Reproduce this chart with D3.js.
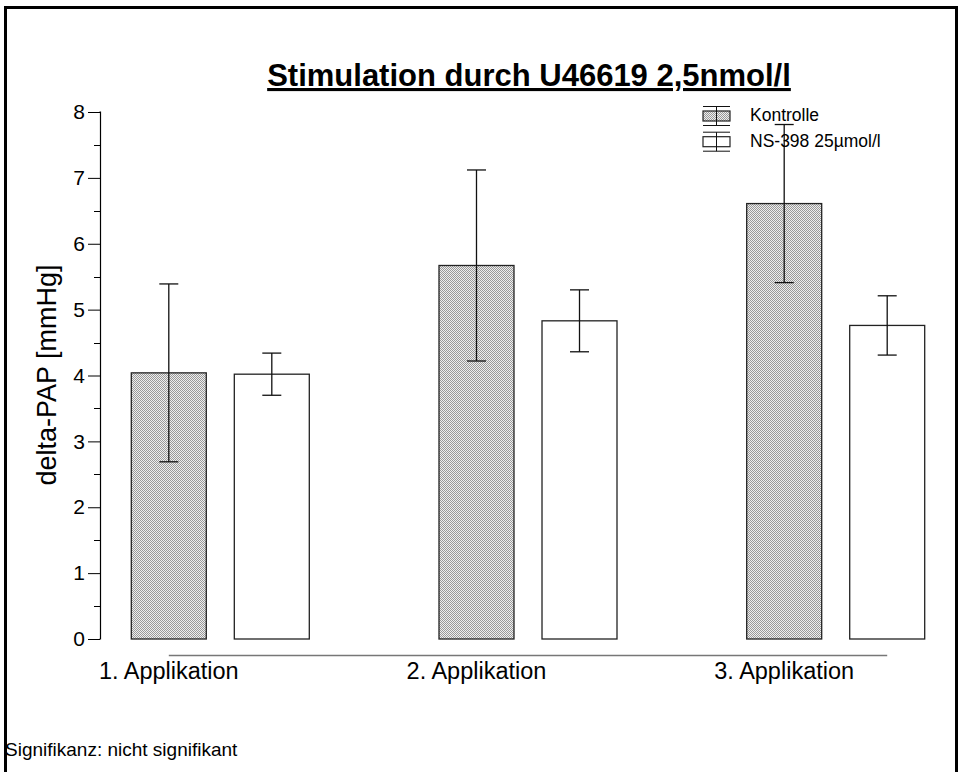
<!DOCTYPE html>
<html>
<head>
<meta charset="utf-8">
<script src="https://cdn.jsdelivr.net/npm/d3@7"></script>
<style>
  html, body { margin: 0; padding: 0; background: #fff; }
  svg { display: block; font-family: "Liberation Sans", Arial, sans-serif; }
</style>
</head>
<body>
<svg id="chart" width="961" height="772"></svg>
<script>
// Applications (x categories)
const categories = ["1. Applikation", "2. Applikation", "3. Applikation"];
// Treatment groups
const series = ["Kontrolle", "NS-398 25µmol/l"];
// Mean delta-PAP [mmHg] per application
const kontrolleMean = [4.04, 5.67, 6.61];
const ns398Mean = [4.02, 4.83, 4.76];
// Error (±) per application
const kontrolleErr = [1.35, 1.45, 1.20];
const ns398Err = [0.32, 0.47, 0.45];
// Y axis ticks
const yTicks = [0, 1, 2, 3, 4, 5, 6, 7, 8];
const yMinorTicks = [0.5, 1.5, 2.5, 3.5, 4.5, 5.5, 6.5, 7.5];

const title = "Stimulation durch U46619 2,5nmol/l";
const yLabel = "delta-PAP [mmHg]";
const footnote = "Signifikanz: nicht signifikant";

const svg = d3.select("#chart");

// Checkered fill for the control bars
const defs = svg.append("defs");
const pat = defs.append("pattern")
  .attr("id", "checker")
  .attr("patternUnits", "userSpaceOnUse")
  .attr("width", 2).attr("height", 2);
pat.append("rect").attr("width", 2).attr("height", 2).attr("fill", "#eeeeee");
pat.append("rect").attr("x", 0).attr("y", 0).attr("width", 1).attr("height", 1).attr("fill", "#999999");
pat.append("rect").attr("x", 1).attr("y", 1).attr("width", 1).attr("height", 1).attr("fill", "#999999");

// Frame
svg.append("rect")
  .attr("x", 5.5).attr("y", 7.5).attr("width", 951).attr("height", 780)
  .attr("fill", "none").attr("stroke", "#000").attr("stroke-width", 3);

// Scales
const y = d3.scaleLinear().domain([0, 8]).range([639, 112]);
const x = d3.scaleBand().domain(categories).range([131.3, 131.3 + 3 * 307.7]).padding(0);
const xs = d3.scaleBand().domain(series).range([0, 178]).paddingInner(0.272).paddingOuter(0);
const bw = xs.bandwidth();

const data = [];
categories.forEach((c, i) => {
  data.push({ cat: c, s: series[0], v: kontrolleMean[i], e: kontrolleErr[i] });
  data.push({ cat: c, s: series[1], v: ns398Mean[i], e: ns398Err[i] });
});

// Y axis
const axisX = 100;
const yAxis = d3.axisLeft(y).tickValues(yTicks).tickSize(12).tickPadding(3).tickFormat(d3.format("d"));
const gy = svg.append("g").attr("transform", `translate(${axisX},0)`).call(yAxis);
gy.select(".domain").attr("d", `M-0.5,${y(8)}H0.5V${y(0)}H-0.5`).attr("stroke", "#000").attr("stroke-width", 1.2);
gy.selectAll(".tick line").attr("stroke", "#000");
gy.selectAll(".tick text").attr("font-size", 21).attr("fill", "#000")
  .attr("font-family", "Liberation Sans, Arial, sans-serif");
svg.append("g").selectAll("line").data(yMinorTicks).join("line")
  .attr("x1", axisX - 6).attr("x2", axisX)
  .attr("y1", d => Math.round(y(d)) + 0.5).attr("y2", d => Math.round(y(d)) + 0.5)
  .attr("stroke", "#000");

// Bars
svg.append("g").selectAll("rect").data(data).join("rect")
  .attr("x", d => x(d.cat) + xs(d.s))
  .attr("y", d => y(d.v))
  .attr("width", bw)
  .attr("height", d => y(0) - y(d.v))
  .attr("fill", d => d.s === series[0] ? "url(#checker)" : "#fff")
  .attr("stroke", "#222").attr("stroke-width", 1.3);

// Error bars
const cap = 19;
const eb = svg.append("g").attr("stroke", "#111").attr("stroke-width", 1.3);
data.forEach(d => {
  const cx = x(d.cat) + xs(d.s) + bw / 2;
  eb.append("line").attr("x1", cx).attr("x2", cx).attr("y1", y(d.v + d.e)).attr("y2", y(d.v - d.e));
  eb.append("line").attr("x1", cx - cap / 2).attr("x2", cx + cap / 2).attr("y1", y(d.v + d.e)).attr("y2", y(d.v + d.e));
  eb.append("line").attr("x1", cx - cap / 2).attr("x2", cx + cap / 2).attr("y1", y(d.v - d.e)).attr("y2", y(d.v - d.e));
});

// Category axis line (from first to last bar centre)
const firstC = x(categories[0]) + xs(series[0]) + bw / 2;
const lastC = x(categories[2]) + xs(series[1]) + bw / 2;
svg.append("line").attr("x1", firstC).attr("x2", lastC).attr("y1", 655.5).attr("y2", 655.5)
  .attr("stroke", "#777").attr("stroke-width", 1.3);

// Category labels
svg.append("g").selectAll("text").data(categories).join("text")
  .attr("x", d => x(d) + xs(series[0]) + bw / 2)
  .attr("y", 679)
  .attr("text-anchor", "middle")
  .attr("font-size", 23.5)
  .text(d => d);

// Title
svg.append("text")
  .attr("x", 529).attr("y", 86)
  .attr("text-anchor", "middle")
  .attr("font-size", 31).attr("font-weight", "bold")
  .attr("text-decoration", "underline")
  .text(title);

// Y label
svg.append("text")
  .attr("transform", `translate(56,${375}) rotate(-90)`)
  .attr("text-anchor", "middle")
  .attr("font-size", 27)
  .text(yLabel);

// Legend
const legend = svg.append("g");
const legRows = [{ s: series[0], cy: 116 }, { s: series[1], cy: 141.7 }];
legRows.forEach((r, i) => {
  const lx = 703, w = 27, h = 10, c = 9.5;
  legend.append("rect").attr("x", lx).attr("y", r.cy - h / 2).attr("width", w).attr("height", h)
    .attr("fill", i === 0 ? "url(#checker)" : "#fff").attr("stroke", "#222").attr("stroke-width", 1.2);
  legend.append("line").attr("x1", lx + w / 2).attr("x2", lx + w / 2).attr("y1", r.cy - c).attr("y2", r.cy + c).attr("stroke", "#111");
  legend.append("line").attr("x1", lx).attr("x2", lx + w).attr("y1", r.cy - c).attr("y2", r.cy - c).attr("stroke", "#111");
  legend.append("line").attr("x1", lx).attr("x2", lx + w).attr("y1", r.cy + c).attr("y2", r.cy + c).attr("stroke", "#111");
  legend.append("text").attr("x", 750).attr("y", r.cy + 5).attr("font-size", 17.5).text(r.s);
});

// Footnote
svg.append("text").attr("x", 5).attr("y", 756).attr("font-size", 19).text(footnote);
</script>
</body>
</html>
